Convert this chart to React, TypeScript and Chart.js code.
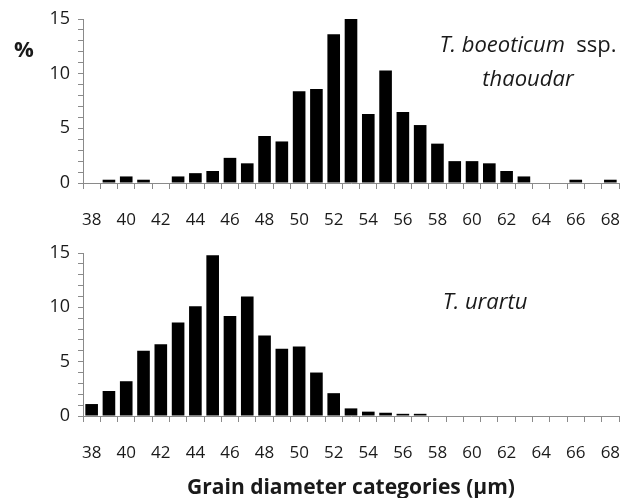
import React, { useEffect, useRef } from "react";
import { Chart, registerables } from "chart.js";

Chart.register(...registerables);

const categories = ["38","39","40","41","42","43","44","45","46","47","48","49","50","51","52","53","54","55","56","57","58","59","60","61","62","63","64","65","66","67","68"];
const boeoticumValues = [0, 0.3, 0.6, 0.3, 0, 0.6, 0.9, 1.1, 2.3, 1.8, 4.3, 3.8, 8.4, 8.6, 13.6, 15.0, 6.3, 10.3, 6.5, 5.3, 3.6, 2.0, 2.0, 1.8, 1.1, 0.6, 0, 0, 0.3, 0, 0.3];
const urartuValues = [1.1, 2.3, 3.2, 6.0, 6.6, 8.6, 10.1, 14.8, 9.2, 11.0, 7.4, 6.2, 6.4, 4.0, 2.1, 0.7, 0.4, 0.3, 0.2, 0.2, 0, 0, 0, 0, 0, 0, 0, 0, 0, 0, 0];
const yMajorTicks = [0, 5, 10, 15];
const xTitle = "Grain diameter categories (µm)";

const FONT = "'Open Sans', Lato, sans-serif";
const AXIS = "#8a8a8a";
const TEXT = "#1a1a1a";

function makeConfig(values: number[], canvasH: number, top: number, bottom: number, withTitle: boolean): any {
  return {
    type: "bar",
    data: {
      labels: categories,
      datasets: [{
        data: values,
        backgroundColor: "#000",
        borderWidth: 0,
        barPercentage: 0.73,
        categoryPercentage: 1,
      }],
    },
    options: {
      responsive: false,
      animation: false,
      events: [],
      layout: { padding: { left: 0, right: 13, top: top, bottom: 0 } },
      plugins: { legend: { display: false }, tooltip: { enabled: false }, title: { display: false } },
      scales: {
        x: {
          offset: true,
          grid: { offset: true, drawOnChartArea: false, drawTicks: true, tickLength: 6, color: AXIS, lineWidth: 1 },
          border: { display: true, color: AXIS, width: 1 },
          ticks: {
            autoSkip: false,
            maxRotation: 0,
            padding: 21,
            color: TEXT,
            font: { family: FONT, size: 17 },
            callback: (_v: any, i: number) => (i % 2 === 0 ? categories[i] : ""),
          },
          title: {
            display: withTitle,
            text: xTitle,
            color: TEXT,
            font: { family: FONT, size: 21, weight: "bold" },
            padding: { top: 0, bottom: -3 },
          },
          afterFit: (s: any) => {
            s.height = canvasH - bottom;
            s.paddingLeft = 0;
            s.paddingRight = 0;
          },
        },
        y: {
          min: 0,
          max: 15,
          grid: { drawOnChartArea: false, drawTicks: true, tickLength: 5, color: AXIS, lineWidth: 1 },
          border: { display: true, color: AXIS, width: 1 },
          ticks: {
            stepSize: 1,
            autoSkip: false,
            padding: 8,
            color: TEXT,
            font: { family: FONT, size: 18 },
            callback: (v: any) => (yMajorTicks.includes(Number(v)) ? String(v) : ""),
          },
          afterFit: (s: any) => {
            s.width = 83;
            s.paddingTop = 0;
            s.paddingBottom = 0;
          },
        },
      },
    },
  };
}

export default function App() {
  const ref1 = useRef<HTMLCanvasElement | null>(null);
  const ref2 = useRef<HTMLCanvasElement | null>(null);

  useEffect(() => {
    const c1 = new Chart(ref1.current as HTMLCanvasElement, makeConfig(boeoticumValues, 232, 19, 183, false));
    const c2 = new Chart(ref2.current as HTMLCanvasElement, makeConfig(urartuValues, 266, 21, 184, true));
    return () => { c1.destroy(); c2.destroy(); };
  }, []);

  return (
    <div style={{ position: "absolute", left: 0, top: 0, width: 632, height: 498, background: "#fff", fontFamily: FONT, color: TEXT }}>
      <canvas ref={ref1} width={632} height={232} style={{ position: "absolute", left: 0, top: 0, width: 632, height: 232 }} />
      <canvas ref={ref2} width={632} height={266} style={{ position: "absolute", left: 0, top: 232, width: 632, height: 266 }} />
      <div style={{ position: "absolute", left: 8, top: 32, width: 32, textAlign: "center", fontWeight: "bold", fontSize: 22, lineHeight: "32px" }}>%</div>
      <div style={{ position: "absolute", left: 398, top: 26, width: 260, textAlign: "center", fontSize: 22, lineHeight: "34px" }}>
        <span style={{ fontStyle: "italic" }}>T. boeoticum</span>&nbsp; ssp.<br />
        <span style={{ fontStyle: "italic" }}>thaoudar</span>
      </div>
      <div style={{ position: "absolute", left: 385, top: 283, width: 200, textAlign: "center", fontSize: 22, lineHeight: "34px", fontStyle: "italic" }}>T. urartu</div>
    </div>
  );
}
